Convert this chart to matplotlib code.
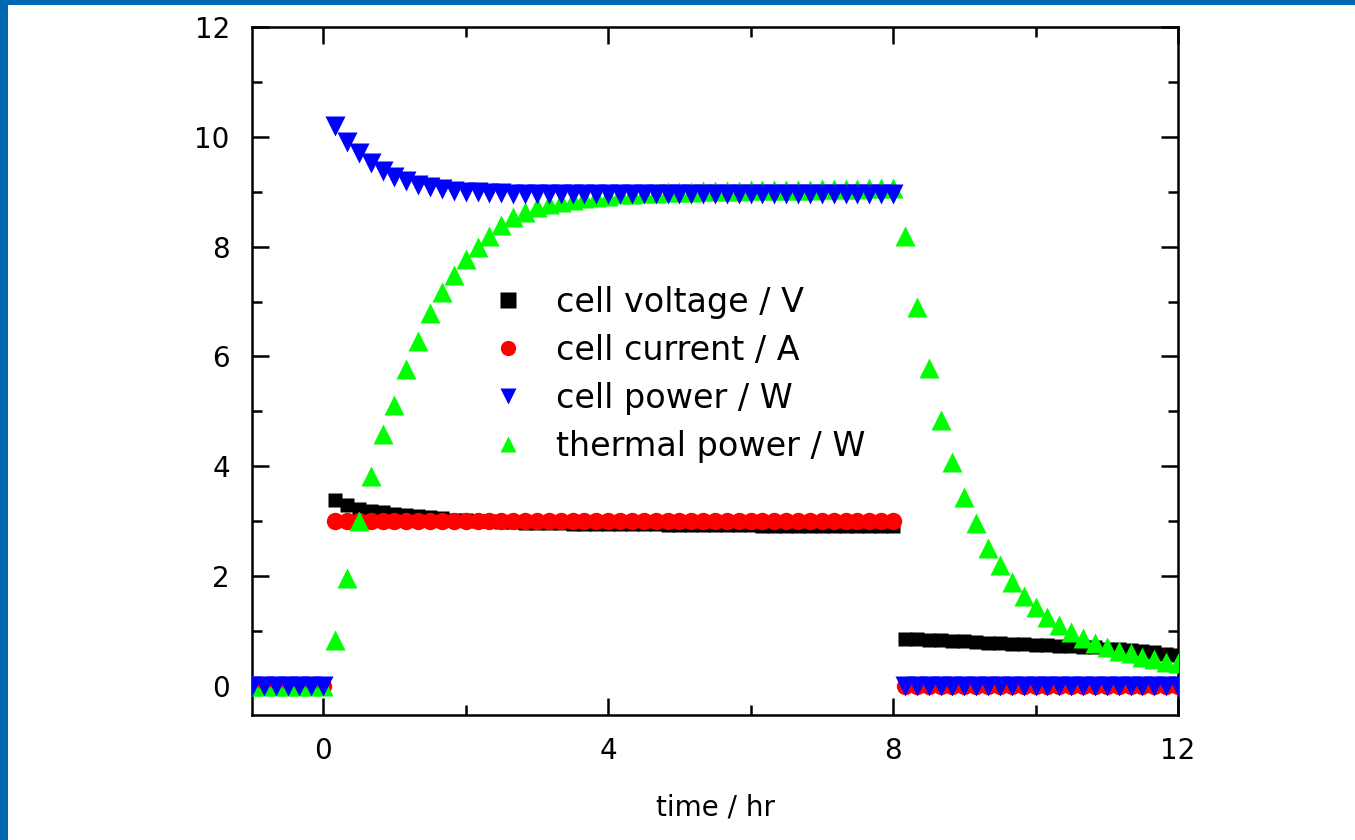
import numpy as np
import matplotlib
matplotlib.use("Agg")
import matplotlib.pyplot as plt
from matplotlib.patches import Rectangle
from matplotlib.ticker import MultipleLocator

# time grid: one sample every 10 minutes from -60 min to 720 min
time_min = np.arange(-60, 721, 10)
time_hr = time_min / 60.0

pre_zero = [0.0] * 7  # -60 .. 0 min

voltage_on = [3.38, 3.30, 3.23, 3.19, 3.16, 3.13, 3.11, 3.09, 3.07, 3.05, 3.03, 3.02,
              3.01, 3.00, 2.99, 2.98, 2.97, 2.97, 2.96, 2.96, 2.95, 2.95, 2.95, 2.94,
              2.94, 2.94, 2.94, 2.94, 2.93, 2.93, 2.93, 2.93, 2.93, 2.93, 2.93, 2.93,
              2.92, 2.92, 2.92, 2.92, 2.92, 2.92, 2.92, 2.92, 2.92, 2.92, 2.92, 2.92]
voltage_off = [0.86, 0.85, 0.84, 0.83, 0.82, 0.81, 0.80, 0.79, 0.78, 0.77, 0.76, 0.75,
               0.74, 0.73, 0.72, 0.71, 0.70, 0.68, 0.67, 0.65, 0.63, 0.61, 0.59, 0.57]

current_on = [3.0] * 48
current_off = [0.0] * 24

power_on = [10.20, 9.90, 9.70, 9.52, 9.38, 9.27, 9.19, 9.13, 9.08, 9.05, 9.02, 9.00,
            8.99, 8.98, 8.97, 8.96, 8.96, 8.95, 8.95, 8.95, 8.95, 8.95, 8.95, 8.95,
            8.95, 8.95, 8.95, 8.95, 8.95, 8.95, 8.95, 8.95, 8.95, 8.95, 8.95, 8.95,
            8.95, 8.95, 8.95, 8.95, 8.95, 8.95, 8.95, 8.95, 8.95, 8.95, 8.95, 8.95]
power_off = [0.0] * 24

thermal_on = [0.84, 1.97, 3.00, 3.82, 4.59, 5.12, 5.77, 6.28, 6.79, 7.18, 7.49, 7.78,
              8.00, 8.20, 8.39, 8.54, 8.63, 8.72, 8.77, 8.81, 8.85, 8.88, 8.91, 8.93,
              8.95, 8.96, 8.97, 8.98, 8.99, 9.00, 9.00, 9.01, 9.01, 9.02, 9.02, 9.03,
              9.03, 9.03, 9.04, 9.04, 9.04, 9.05, 9.05, 9.05, 9.05, 9.06, 9.06, 9.06]
thermal_off = [8.20, 6.90, 5.79, 4.84, 4.08, 3.44, 2.97, 2.51, 2.20, 1.89, 1.64, 1.44,
               1.26, 1.11, 0.98, 0.87, 0.78, 0.71, 0.64, 0.60, 0.53, 0.49, 0.44, 0.42]

cell_voltage = pre_zero + voltage_on + voltage_off
cell_current = pre_zero + current_on + current_off
cell_power = pre_zero + power_on + power_off
thermal_power = pre_zero + thermal_on + thermal_off

labels = ["cell voltage / V", "cell current / A", "cell power / W", "thermal power / W"]

plt.rcParams['font.family'] = ['DejaVu Sans']

W, H, DPI = 1355, 840, 100
fig = plt.figure(figsize=(W / DPI, H / DPI), dpi=DPI)
fig.patch.set_facecolor('white')

# blue frame strips (left and top)
fig.patches.append(Rectangle((0, 0), 8 / W, 1, transform=fig.transFigure,
                             facecolor='#0068B0', edgecolor='none', zorder=10))
fig.patches.append(Rectangle((0, 1 - 5 / H), 1, 5 / H, transform=fig.transFigure,
                             facecolor='#0068B0', edgecolor='none', zorder=10))

ax = fig.add_axes([252 / W, 1 - 715 / H, (1178 - 252) / W, (715 - 27) / H])

h1, = ax.plot(time_hr, cell_voltage, ls='none', marker='s', ms=10.5, color='black',
              mec='none', zorder=2, label=labels[0])
h2, = ax.plot(time_hr, cell_current, ls='none', marker='o', ms=12.5, color='#FF0000',
              mec='none', zorder=3, label=labels[1])
h4, = ax.plot(time_hr, thermal_power, ls='none', marker='^', ms=15, color='#00FF00',
              mec='none', zorder=4, label=labels[3])
h3, = ax.plot(time_hr, cell_power, ls='none', marker='v', ms=15, color='#0000FF',
              mec='none', zorder=5, label=labels[2])

ax.set_xlim(-1, 12)
ax.set_ylim(-0.53, 12)
ax.xaxis.set_major_locator(MultipleLocator(4))
ax.xaxis.set_minor_locator(MultipleLocator(2))
ax.yaxis.set_major_locator(MultipleLocator(2))
ax.yaxis.set_minor_locator(MultipleLocator(1))

for s in ax.spines.values():
    s.set_linewidth(1.8)
ax.tick_params(which='both', direction='in', top=True, right=True, width=1.8)
ax.tick_params(which='major', length=12.5, labelsize=20, pad=16)
ax.tick_params(which='minor', length=7)

ax.set_xlabel("time / hr", fontsize=20, labelpad=20)

leg = ax.legend(handles=[h1, h2, h3, h4], loc='upper left',
                bbox_to_anchor=(491 / W, 1 - 286 / H), bbox_transform=fig.transFigure,
                frameon=False, fontsize=24, numpoints=1, handlelength=1.0,
                handletextpad=0.96, labelspacing=0.45, borderpad=0, borderaxespad=0)
for lh in leg.legend_handles:
    lh.set_markersize(11)

fig.savefig("out.png", dpi=DPI)
